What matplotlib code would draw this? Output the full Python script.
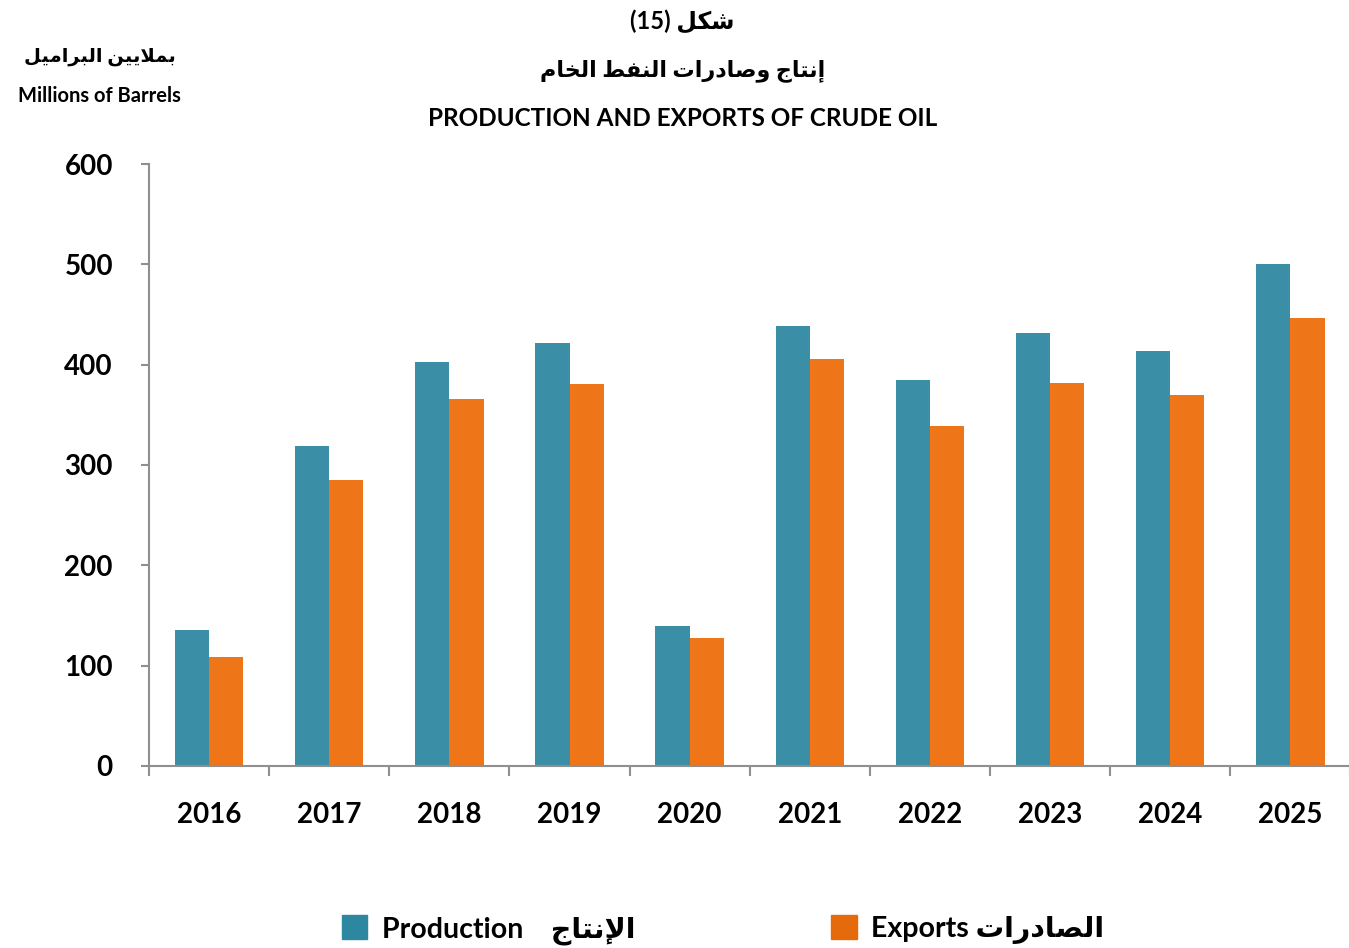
import numpy as np
import matplotlib
matplotlib.use('Agg')
import matplotlib.pyplot as plt
from matplotlib.patches import Patch

years = ['2016', '2017', '2018', '2019', '2020',
         '2021', '2022', '2023', '2024', '2025']
production = [136, 319, 403, 422, 140, 439, 385, 432, 414, 500]
exports = [109, 285, 366, 381, 128, 406, 339, 382, 370, 447]
y_ticks = [0, 100, 200, 300, 400, 500, 600]

TEAL = '#3a8ea5'
ORANGE = '#ee7518'
AXIS_GRAY = '#8f8f8f'

# arabic presentation forms: (isolated, final, initial, medial)
FORMS = {
    'ا': ('\uFE8D', '\uFE8E', None, None),
    'إ': ('\uFE87', '\uFE88', None, None),
    'ب': ('\uFE8F', '\uFE90', '\uFE91', '\uFE92'),
    'ت': ('\uFE95', '\uFE96', '\uFE97', '\uFE98'),
    'ج': ('\uFE9D', '\uFE9E', '\uFE9F', '\uFEA0'),
    'خ': ('\uFEA5', '\uFEA6', '\uFEA7', '\uFEA8'),
    'د': ('\uFEA9', '\uFEAA', None, None),
    'ر': ('\uFEAD', '\uFEAE', None, None),
    'ش': ('\uFEB5', '\uFEB6', '\uFEB7', '\uFEB8'),
    'ص': ('\uFEB9', '\uFEBA', '\uFEBB', '\uFEBC'),
    'ط': ('\uFEC1', '\uFEC2', '\uFEC3', '\uFEC4'),
    'ف': ('\uFED1', '\uFED2', '\uFED3', '\uFED4'),
    'ك': ('\uFED9', '\uFEDA', '\uFEDB', '\uFEDC'),
    'ل': ('\uFEDD', '\uFEDE', '\uFEDF', '\uFEE0'),
    'م': ('\uFEE1', '\uFEE2', '\uFEE3', '\uFEE4'),
    'ن': ('\uFEE5', '\uFEE6', '\uFEE7', '\uFEE8'),
    'و': ('\uFEED', '\uFEEE', None, None),
    'ي': ('\uFEF1', '\uFEF2', '\uFEF3', '\uFEF4'),
}
LAM_ALEF = {'ا': ('\uFEFB', '\uFEFC'), 'إ': ('\uFEF9', '\uFEFA')}


def ar(text):
    """Shape arabic text by hand and return it in visual order."""
    tokens = []
    i = 0
    while i < len(text):
        c = text[i]
        if c == 'ل' and i + 1 < len(text) and text[i + 1] in LAM_ALEF:
            tokens.append(('LA', text[i + 1]))
            i += 2
        else:
            tokens.append(c)
            i += 1

    def is_ar(t):
        return isinstance(t, tuple) or t in FORMS

    def joins_fwd(t):
        return (not isinstance(t, tuple)) and t in FORMS and FORMS[t][2] is not None

    out = []
    for k, t in enumerate(tokens):
        prev_j = k > 0 and joins_fwd(tokens[k - 1]) and is_ar(t)
        if isinstance(t, tuple):
            out.append(LAM_ALEF[t[1]][1 if prev_j else 0])
            continue
        if t not in FORMS:
            out.append(t)
            continue
        next_j = joins_fwd(t) and k + 1 < len(tokens) and is_ar(tokens[k + 1])
        iso, fin, ini, med = FORMS[t]
        if prev_j and next_j:
            out.append(med)
        elif prev_j:
            out.append(fin)
        elif next_j:
            out.append(ini)
        else:
            out.append(iso)
    return ''.join(reversed(out))


FAM = ['Lato', 'DejaVu Sans']
plt.rcParams['font.family'] = FAM

fig = plt.figure(figsize=(13.49, 9.48), dpi=100)
ax = fig.add_axes([0.1105, 0.192, 0.8905, 0.635])

x = np.arange(len(years))
w = 0.285
ax.bar(x - w / 2, production, w, color=TEAL, label='Production')
ax.bar(x + w / 2, exports, w, color=ORANGE, label='Exports')

ax.set_xlim(-0.5, len(years) - 0.5)
ax.set_ylim(0, 600)
ax.set_yticks(y_ticks)
ax.set_yticklabels([str(v) for v in y_ticks], fontsize=20, fontweight='bold')
ax.set_xticks(x)
ax.set_xticklabels(years, fontsize=20, fontweight='bold')
ax.set_xticks(np.arange(-0.5, len(years), 1.0), minor=True)
ax.tick_params(axis='x', which='major', length=0, pad=26)
ax.tick_params(axis='x', which='minor', length=7, width=1.5, color=AXIS_GRAY, direction='out')
ax.tick_params(axis='y', length=6, width=1.5, color=AXIS_GRAY, pad=20)

for s in ['top', 'right']:
    ax.spines[s].set_visible(False)
for s in ['left', 'bottom']:
    ax.spines[s].set_color(AXIS_GRAY)
    ax.spines[s].set_linewidth(1.5)

# titles
fig.text(0.506, 0.978, '(15) ' + ar('شكل'), ha='center', va='center',
         fontsize=17, fontweight='bold', family=FAM)
fig.text(0.506, 0.926, ar('إنتاج وصادرات النفط الخام'), ha='center', va='center',
         fontsize=16, fontweight='bold', family=FAM)
fig.text(0.506, 0.875, 'PRODUCTION AND EXPORTS OF CRUDE OIL', ha='center', va='center',
         fontsize=17.5, fontweight='bold', family=FAM)
fig.text(0.074, 0.94, ar('بملايين البراميل'), ha='center', va='center',
         fontsize=14, fontweight='bold', family=FAM)
fig.text(0.074, 0.899, 'Millions of Barrels', ha='center', va='center',
         fontsize=14.5, fontweight='bold', family=FAM)

handles = [Patch(color='#2e87a0'), Patch(color='#e56a0c')]
labels = ['Production    ' + ar('الإنتاج'), 'Exports ' + ar('الصادرات')]
fig.legend(handles, labels, loc='center', bbox_to_anchor=(0.536, 0.019), ncol=2,
           frameon=False, prop={'weight': 'bold', 'size': 20.5, 'family': FAM},
           handlelength=0.9, handleheight=0.9, columnspacing=6.9, handletextpad=0.5)

fig.savefig('out.png', dpi=100)
